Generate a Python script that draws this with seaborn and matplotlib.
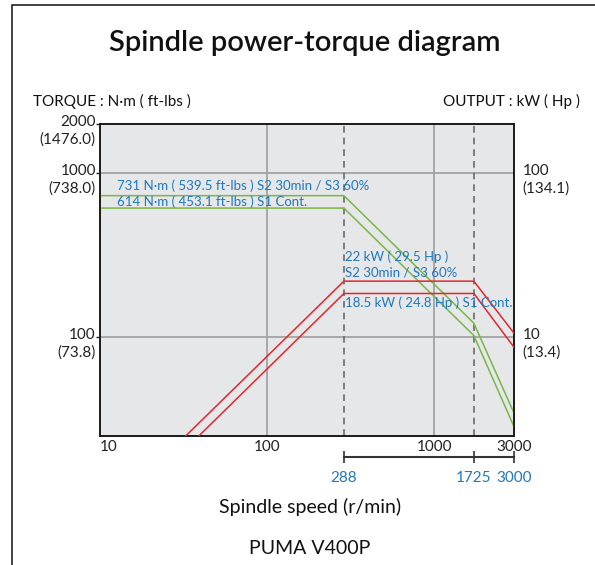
import numpy as np
import pandas as pd
import seaborn as sns
import matplotlib.pyplot as plt
from matplotlib.patches import Rectangle
from matplotlib.ticker import NullLocator

# spindle speed (r/min) break points
speed = [10, 288, 1725, 3000]

# torque curves N·m
torque_s2 = [731, 731, 122, 34.5]
torque_s1 = [614, 614, 102.5, 28.5]

# output curves kW
power_s2 = [0.77, 22, 22, 10.6]
power_s1 = [0.64, 18.5, 18.5, 8.7]

speed_ticks = [10, 100, 1000, 3000]
speed_labels = ['10', '100', '1000', '3000']
rated_speeds = [288, 1725, 3000]

torque_ticks = [100, 1000, 2000]
torque_labels = ['100\n(73.8)', '1000\n(738.0)', '2000\n(1476.0)']
power_ticks = [10, 100]
power_labels = ['10\n(13.4)', '100\n(134.1)']

GREEN = '#7ab648'
RED = '#e3262d'
BLUE = '#1f78c1'

sns.set_theme(style='white')
plt.rcParams['font.family'] = ['Lato', 'DejaVu Sans']

df_t = pd.DataFrame({'speed': speed * 2,
                     'value': torque_s2 + torque_s1,
                     'curve': ['S2'] * 4 + ['S1'] * 4})
df_p = pd.DataFrame({'speed': speed * 2,
                     'value': power_s2 + power_s1,
                     'curve': ['S2'] * 4 + ['S1'] * 4})

fig = plt.figure(figsize=(5.95, 5.65), dpi=100)
ax = fig.add_axes([100 / 595, 1 - 436 / 565, 414 / 595, 312 / 565])
ax.set_facecolor('#e6e7e9')
ax.set_xscale('log')
ax.set_yscale('log')
ax.set_xlim(10, 3000)
ax.set_ylim(25, 2000)

# grid
for v in [100, 1000]:
    ax.axvline(v, color='#a3a3a3', lw=1.3, zorder=1)
    ax.axhline(v, color='#a3a3a3', lw=1.3, zorder=1)
for v in [288, 1725]:
    ax.axvline(v, color='#6b6b6b', lw=1.2, ls=(0, (4, 3)), zorder=1)

sns.lineplot(data=df_t, x='speed', y='value', units='curve', estimator=None,
             color=GREEN, lw=1.1, ax=ax, zorder=3)

ax2 = ax.twinx()
ax2.set_yscale('log')
ax2.set_ylim(2.5, 200)
sns.lineplot(data=df_p, x='speed', y='value', units='curve', estimator=None,
             color=RED, lw=1.1, ax=ax2, zorder=3)

for a in (ax, ax2):
    a.set_xlabel('')
    a.set_ylabel('')
    a.yaxis.set_minor_locator(NullLocator())
    a.set_yticklabels([])
    for s in a.spines.values():
        s.set_color('#1a1a1a')
        s.set_linewidth(1.2)
ax.xaxis.set_minor_locator(NullLocator())
ax.set_xticks(speed_ticks)
ax.set_xticklabels(speed_labels)
ax.tick_params(axis='x', length=0, pad=3, labelsize=11, colors='#222222')
ax.get_xticklabels()[0].set_horizontalalignment('left')
ax.set_yticks(torque_ticks)
ax.set_yticklabels([])
ax.tick_params(axis='y', length=3, width=1, color='#222222', left=True)
ax2.set_yticks(power_ticks)
ax2.set_yticklabels([])
ax2.tick_params(axis='y', length=0)

ytr = ax.get_yaxis_transform()
for v, lab in zip(torque_ticks, torque_labels):
    ax.annotate(lab, xy=(0, v), xycoords=ytr, xytext=(-3, 6.5), textcoords='offset points',
                ha='right', va='top', fontsize=11, color='#222222', linespacing=1.3,
                annotation_clip=False)
ytr2 = ax2.get_yaxis_transform()
for v, lab in zip(power_ticks, power_labels):
    ax2.annotate(lab, xy=(1, v), xycoords=ytr2, xytext=(6, 6.5), textcoords='offset points',
                 ha='left', va='top', fontsize=11, color='#222222', linespacing=1.3,
                 annotation_clip=False)

# rated speed bracket under the axis
sec = ax.secondary_xaxis(-0.067)
sec.xaxis.set_minor_locator(NullLocator())
sec.set_xticks(rated_speeds)
sec.set_xticklabels([str(v) for v in rated_speeds])
sec.spines['bottom'].set_bounds(288, 3000)
sec.spines['bottom'].set_color('#333333')
sec.spines['bottom'].set_linewidth(1.5)
sec.tick_params(axis='x', direction='inout', length=9, width=1.2, color='#333333',
                labelcolor=BLUE, labelsize=11, pad=6)

# curve labels
ax.annotate('731 N·m ( 539.5 ft-lbs ) S2 30min / S3 60%', xy=(12.6, 731),
            xytext=(0, 2.5), textcoords='offset points', ha='left', va='bottom',
            fontsize=9.5, color=BLUE, zorder=4)
ax.annotate('614 N·m ( 453.1 ft-lbs ) S1 Cont.', xy=(12.6, 614),
            xytext=(0, 0), textcoords='offset points', ha='left', va='bottom',
            fontsize=9.5, color=BLUE, zorder=4)
ax2.annotate('22 kW ( 29.5 Hp )\nS2 30min / S3 60%', xy=(288, 22),
             xytext=(1, 2), textcoords='offset points', ha='left', va='bottom',
             fontsize=9.5, color=BLUE, linespacing=1.3, zorder=4)
ax2.annotate('18.5 kW ( 24.8 Hp ) S1 Cont.', xy=(288, 18.5),
             xytext=(1, -2), textcoords='offset points', ha='left', va='top',
             fontsize=9.5, color=BLUE, zorder=4)

# headings
fig.text(305 / 595, 1 - 43 / 565, 'Spindle power-torque diagram', ha='center', va='center',
         fontsize=21, fontweight='semibold', color='#111111')
fig.text(33 / 595, 1 - 101 / 565, 'TORQUE : N·m ( ft-lbs )', ha='left', va='center',
         fontsize=11, color='#111111')
fig.text(580 / 595, 1 - 101 / 565, 'OUTPUT : kW ( Hp )', ha='right', va='center',
         fontsize=11, color='#111111')
fig.text(310 / 595, 1 - 507 / 565, 'Spindle speed (r/min)', ha='center', va='center',
         fontsize=14, color='#111111')
fig.text(310 / 595, 1 - 548 / 565, 'PUMA V400P', ha='center', va='center',
         fontsize=14, color='#111111')

# outer frame
fig.patches.append(Rectangle((12 / 595, -0.1), 1.0, 1.1 - 5 / 565, transform=fig.transFigure,
                             fill=False, ec='#222222', lw=1.2))

fig.savefig('out.png', dpi=100)
